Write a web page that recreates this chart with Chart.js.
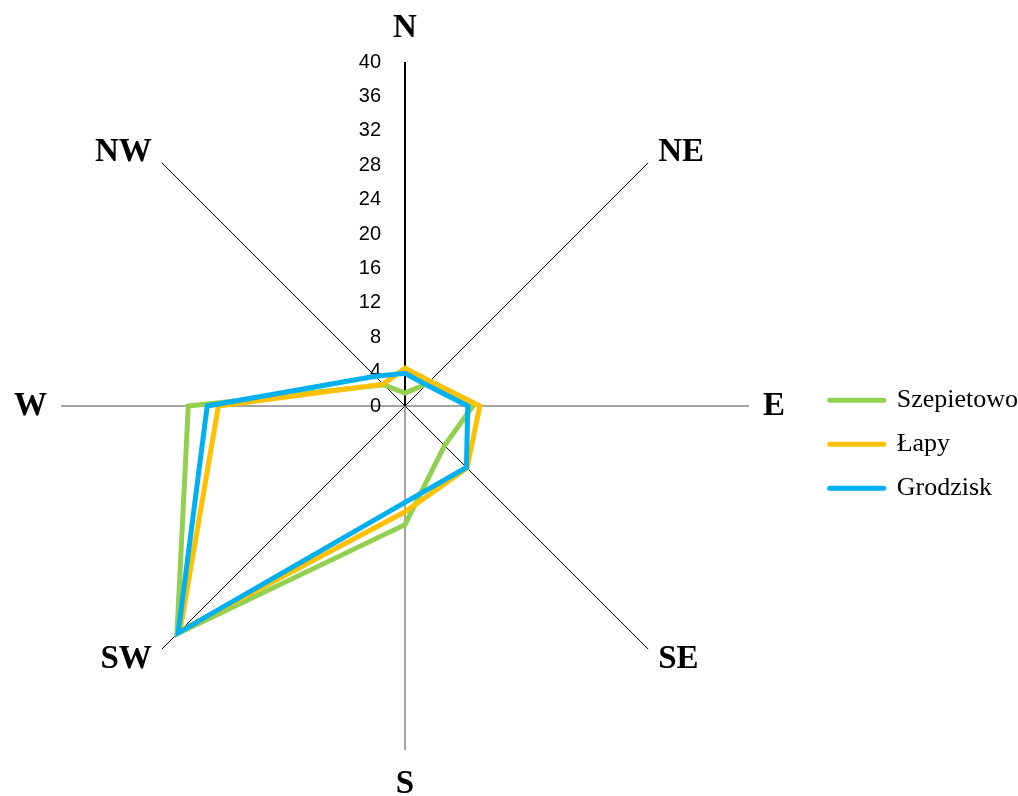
<!DOCTYPE html>
<html>
<head>
<meta charset="utf-8">
<script src="https://cdn.jsdelivr.net/npm/chart.js@4"></script>
<style>
  html, body { margin: 0; padding: 0; background: #fff; overflow: hidden; }
  #wrap { width: 1030px; height: 796px; margin-left: -12px; }
</style>
</head>
<body>
<div id="wrap"><canvas id="stage1"></canvas></div>
<script>
// kierunki wiatru
const directions = ['N', 'NE', 'E', 'SE', 'S', 'SW', 'W', 'NW'];
const tickLabels = ['0', '4', '8', '12', '16', '20', '24', '28', '32', '36', '40'];

const szepietowo = [1.5, 3.7, 7.9, 6.5, 13.8, 37.5, 25.2, 3.5];
const lapy       = [4.4, 4.1, 8.7, 10.2, 12.3, 37.0, 21.7, 3.6];
const grodzisk   = [3.8, 3.5, 7.3, 10.1, 11.2, 37.3, 23.0, 4.9];

const serif = "'Liberation Serif', 'Times New Roman', serif";

// podpisy osi po lewej stronie osi N
const tickPlugin = {
  id: 'leftTicks',
  beforeDatasetsDraw(chart) {
    const scale = chart.scales.r;
    const ctx = chart.ctx;
    ctx.save();
    ctx.font = "20px 'Liberation Sans', Arial, sans-serif";
    ctx.fillStyle = '#000';
    ctx.textAlign = 'right';
    ctx.textBaseline = 'middle';
    for (const t of tickLabels) {
      const d = scale.getDistanceFromCenterForValue(Number(t));
      ctx.fillText(t, scale.xCenter - 24, scale.yCenter - d);
    }
    ctx.restore();
  }
};

function drawGraph(canv) {
  return new Chart(canv, {
    type: 'radar',
    data: {
      labels: directions,
      datasets: [
        { label: 'Szepietowo', data: szepietowo, borderColor: '#92D050', backgroundColor: '#92D050', order: 3 },
        { label: 'Łapy', data: lapy, borderColor: '#FFC000', backgroundColor: '#FFC000', order: 2 },
        { label: 'Grodzisk', data: grodzisk, borderColor: '#00B0F0', backgroundColor: '#00B0F0', order: 1 },
      ]
    },
    options: {
      responsive: true,
      maintainAspectRatio: false,
      animation: false,
      layout: { padding: { top: 28, bottom: 12, left: 0, right: -10 } },
      elements: {
        line: { borderWidth: 5, fill: false, tension: 0, borderJoinStyle: 'miter' },
        point: { radius: 0, hoverRadius: 0 }
      },
      plugins: {
        tooltip: { enabled: false },
        legend: {
          position: 'right',
          title: { display: true, text: '', font: { size: 12 }, padding: { top: 62, bottom: 0 } },
          labels: {
            usePointStyle: true,
            pointStyle: 'line',
            pointStyleWidth: 54,
            padding: 18,
            color: '#000',
            font: { family: serif, size: 26 },
            sort: (a, b) => a.datasetIndex - b.datasetIndex,
            generateLabels: (chart) => {
              const items = Chart.defaults.plugins.legend.labels.generateLabels(chart);
              items.forEach(it => {
                it.lineWidth = 5;
                it.lineCap = 'round';
                it.strokeStyle = chart.data.datasets[it.datasetIndex].borderColor;
              });
              return items;
            }
          }
        }
      },
      scales: {
        r: {
          min: 0,
          max: 40,
          ticks: { display: false, stepSize: 4 },
          grid: { display: false },
          angleLines: {
            display: true,
            color: (c) => (c.index === 0 ? '#000' : (c.index % 2 === 0 ? '#868686' : '#000')),
            lineWidth: (c) => (c.index === 0 ? 2 : (c.index % 2 === 0 ? 1.5 : 1))
          },
          pointLabels: {
            color: '#000',
            padding: (c) => (c.index % 4 === 0 ? 34 : 14),
            font: { family: serif, size: 33, weight: 'bold', lineHeight: '0px' }
          }
        }
      }
    },
    plugins: [tickPlugin]
  });
}

var radarChart = drawGraph(document.getElementById('stage1'));
</script>
</body>
</html>
